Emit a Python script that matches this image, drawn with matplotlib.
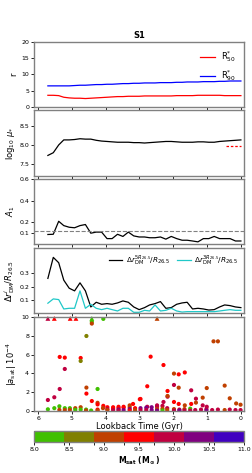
import matplotlib
matplotlib.use("Agg")
import matplotlib.pyplot as plt
from matplotlib.colors import ListedColormap, BoundaryNorm
import numpy as np

# lookback time of each snapshot (Gyr)
time = [5.71, 5.55, 5.39, 5.24, 5.08, 4.92, 4.76, 4.60, 4.44, 4.28, 4.12, 3.96, 3.81,
        3.65, 3.49, 3.33, 3.17, 3.01, 2.85, 2.70, 2.54, 2.38, 2.22, 2.06, 1.90, 1.74,
        1.59, 1.43, 1.27, 1.11, 0.95, 0.79, 0.63, 0.48, 0.32, 0.16, 0.00]

r50 = [3.6, 3.6, 3.5, 3.0, 2.8, 2.7, 2.7, 2.6, 2.7, 2.8, 2.9, 3.0, 3.1, 3.2, 3.2, 3.3,
       3.3, 3.3, 3.4, 3.4, 3.4, 3.4, 3.4, 3.4, 3.5, 3.5, 3.5, 3.5, 3.6, 3.6, 3.6, 3.6,
       3.6, 3.5, 3.5, 3.5, 3.5]
r90 = [6.5, 6.5, 6.5, 6.5, 6.5, 6.6, 6.7, 6.7, 6.8, 6.9, 6.9, 7.0, 7.0, 7.1, 7.2, 7.2,
       7.3, 7.3, 7.4, 7.4, 7.4, 7.5, 7.5, 7.5, 7.6, 7.6, 7.7, 7.7, 7.7, 7.8, 7.8, 7.8,
       7.9, 7.9, 8.0, 8.0, 8.0]

log_mu = [7.73, 7.80, 8.00, 8.13, 8.13, 8.14, 8.16, 8.15, 8.15, 8.12, 8.10, 8.09, 8.08,
          8.07, 8.07, 8.07, 8.06, 8.06, 8.05, 8.06, 8.07, 8.08, 8.09, 8.09, 8.08, 8.07,
          8.07, 8.07, 8.08, 8.08, 8.07, 8.07, 8.09, 8.10, 8.11, 8.12, 8.13]
mu_ref_time = [0.45, 0.0]
mu_ref = [7.98, 7.98]

a1 = [0.088, 0.09, 0.21, 0.17, 0.155, 0.15, 0.17, 0.18, 0.10, 0.11, 0.11, 0.05, 0.05,
      0.09, 0.07, 0.11, 0.075, 0.065, 0.065, 0.058, 0.058, 0.065, 0.045, 0.07, 0.05,
      0.035, 0.035, 0.028, 0.02, 0.05, 0.05, 0.07, 0.05, 0.05, 0.05, 0.028, 0.028]
a1_thresh = 0.12

dr5 = [0.263, 0.42, 0.38, 0.25, 0.19, 0.17, 0.23, 0.17, 0.05, 0.085, 0.07, 0.075, 0.07,
       0.08, 0.095, 0.085, 0.05, 0.03, 0.045, 0.065, 0.075, 0.09, 0.04, 0.045, 0.07,
       0.08, 0.085, 0.035, 0.04, 0.035, 0.027, 0.03, 0.05, 0.065, 0.06, 0.05, 0.045]
dr3 = [0.078, 0.11, 0.105, 0.035, 0.04, 0.04, 0.17, 0.04, 0.07, 0.04, 0.03, 0.04, 0.03,
       0.02, 0.04, 0.04, 0.01, 0.01, 0.025, 0.02, 0.065, 0.02, 0.025, 0.04, 0.02, 0.012,
       0.015, 0.015, 0.015, 0.015, 0.015, 0.015, 0.02, 0.025, 0.03, 0.025, 0.025]

# satellites: time, |a_sat| (1e-4), log mass
sat_time = [4.57, 5.36, 5.21, 4.74, 4.74, 5.21, 5.36, 4.57, 4.24, 4.57, 5.52, 5.71,
            4.41, 4.24, 4.24, 4.07, 3.95, 3.78, 3.62, 3.47, 3.29, 3.19, 2.99, 4.41, 4.41,
            4.07,
            2.67, 2.29, 1.98, 1.84, 1.66, 2.77, 1.98, 1.84, 2.17, 1.47, 0.48, 1.01, 0.81,
            0.68, 2.97, 2.17, 2.17, 2.29, 1.33, 1.13, 0.33, 1.98, 1.84, 1.47, 1.33, 1.13,
            1.01, 1.66, 0.14, 0.01, 2.48, 2.77, 2.64,
            5.71, 5.52, 5.37, 5.37, 5.21, 5.21, 5.06, 5.06, 4.90, 4.90, 4.74, 4.74, 4.58,
            4.58, 4.43, 4.24, 4.24, 4.08, 3.95, 3.95, 3.78, 3.78, 3.62, 3.62, 3.62, 3.47,
            3.47, 3.29, 3.29, 3.29, 3.13, 3.13, 2.97, 2.97, 2.80, 2.80, 2.64, 2.48, 2.48,
            2.48, 2.32, 2.32, 2.32, 2.18, 2.18, 1.98, 1.98, 1.82, 1.82, 1.67, 1.67, 1.50,
            1.50, 1.35, 1.18, 1.02, 1.02, 0.85, 0.68, 0.48, 0.33, 0.16, 0.01]
sat_acc = [7.98, 5.75, 5.68, 5.64, 5.32, 4.47, 2.34, 2.49, 2.34, 1.85, 1.46, 1.17,
           1.06, 0.87, 0.70, 0.55, 0.40, 0.40, 0.45, 0.45, 0.60, 0.75, 1.25, 9.5, 9.3,
           9.8,
           5.78, 4.89, 3.98, 3.90, 4.10, 2.63, 2.77, 2.48, 2.13, 2.20, 2.70, 2.44, 7.41,
           7.41, 1.28, 1.52, 1.60, 0.96, 1.31, 1.42, 1.35, 0.96, 0.75, 0.75, 0.89, 0.60,
           0.45, 0.60, 0.80, 0.67, 0.60, 0.45, 0.40,
           0.18, 0.30, 0.50, 0.12, 0.30, 0.10, 0.30, 0.12, 0.30, 0.12, 0.40, 0.15, 0.15,
           0.05, 0.05, 0.15, 0.05, 0.30, 0.20, 0.10, 0.25, 0.10, 0.30, 0.15, 0.05, 0.35,
           0.10, 0.40, 0.20, 0.05, 0.30, 0.10, 0.30, 0.10, 0.35, 0.10, 0.10, 0.45, 0.20,
           0.05, 0.55, 0.25, 0.05, 0.30, 0.10, 0.20, 0.05, 0.15, 0.05, 0.20, 0.05, 0.25,
           0.05, 0.10, 0.15, 0.20, 0.05, 0.10, 0.15, 0.10, 0.15, 0.10, 0.10]
sat_mass = [8.7, 9.5, 9.5, 9.5, 8.7, 9.9, 9.9, 9.1, 8.2, 9.5, 9.9, 9.9,
            9.5, 9.1, 9.5, 9.5, 9.5, 9.5, 9.5, 9.5, 9.1, 9.5, 9.5, 8.2, 9.1,
            8.2,
            9.5, 9.5, 9.1, 9.5, 9.5, 9.5, 9.9, 9.1, 9.5, 9.9, 9.1, 9.1, 9.1,
            9.1, 9.5, 9.9, 9.1, 9.9, 9.9, 9.1, 9.1, 9.5, 9.5, 9.5, 9.1, 9.9,
            9.9, 9.1, 9.1, 9.1, 9.9, 9.9, 10.3,
            8.2, 8.2, 8.2, 9.1, 8.2, 9.1, 8.2, 9.1, 9.1, 8.2, 9.1, 8.2, 8.2,
            9.1, 8.2, 9.5, 9.1, 9.1, 9.9, 9.1, 9.5, 9.9, 9.5, 10.3, 9.9, 9.5,
            10.3, 9.1, 10.3, 9.5, 9.5, 9.1, 10.3, 9.9, 10.3, 9.9, 10.3, 9.9, 9.1,
            10.3, 9.9, 9.1, 8.2, 9.9, 9.1, 9.1, 9.9, 9.9, 10.3, 9.1, 9.9, 8.2,
            9.9, 9.9, 9.9, 9.9, 10.3, 9.9, 9.9, 9.1, 9.9, 9.9, 9.9]

# satellites beyond the axis limit, drawn as triangles at the top
tri_time = [5.71, 5.52, 5.05, 4.88, 4.41, 2.48]
tri_acc = [9.85, 9.85, 9.85, 9.85, 9.85, 9.85]
tri_mass = [9.9, 9.5, 9.5, 9.5, 8.2, 9.1]

mass_colors = ['#40c000', '#808000', '#c04000', '#ff0000', '#c00040', '#800080', '#4000c0']
mass_bounds = [8.0, 8.4286, 8.8571, 9.2857, 9.7143, 10.1429, 10.5714, 11.0]

cmap = ListedColormap(mass_colors)
norm = BoundaryNorm(mass_bounds, cmap.N)

plt.rcParams['font.size'] = 5
plt.rcParams['axes.edgecolor'] = '#808080'
plt.rcParams['axes.linewidth'] = 1.0
plt.rcParams['xtick.major.size'] = 2
plt.rcParams['ytick.major.size'] = 2
plt.rcParams['xtick.major.width'] = 0.6
plt.rcParams['ytick.major.width'] = 0.6
plt.rcParams['xtick.labelsize'] = 4.5
plt.rcParams['ytick.labelsize'] = 4.5

fig = plt.figure(figsize=(2.52, 4.73), dpi=100)
left, width = 0.135, 0.833
ax1 = fig.add_axes([left, 0.7738, width, 0.1374])
ax2 = fig.add_axes([left, 0.6279, width, 0.1395])
ax3 = fig.add_axes([left, 0.4841, width, 0.1374])
ax4 = fig.add_axes([left, 0.3383, width, 0.1374])
ax5 = fig.add_axes([left, 0.1311, width, 0.1987])
cax = fig.add_axes([left, 0.0655, width, 0.0233])

xlim = (6.12, -0.09)
xt = [6, 5, 4, 3, 2, 1, 0]

# panel 1: radii
ax1.plot(time, r50, color='red', lw=0.9, label=r'R$^{*}_{50}$')
ax1.plot(time, r90, color='blue', lw=0.9, label=r'R$^{*}_{90}$')
ax1.set_ylim(0, 20)
ax1.set_yticks([0, 5, 10, 15, 20])
ax1.set_ylabel('r', fontsize=6, labelpad=2)
ax1.set_title('S1', fontsize=6, fontweight='bold', pad=3)
ax1.legend(loc='upper right', frameon=False, fontsize=6, handlelength=1.8, labelspacing=0.5)

# panel 2: surface density
ax2.plot(time, log_mu, color='black', lw=0.9)
ax2.plot(mu_ref_time, mu_ref, color='red', lw=0.9, ls=(0, (2, 1.5)))
ax2.set_ylim(7.2, 8.9)
ax2.set_yticks([7.5, 8.0, 8.5])
ax2.set_ylabel(r'log$_{10}$ $\mu_{*}$', fontsize=6, labelpad=2)

# panel 3: lopsidedness
ax3.plot(time, a1, color='black', lw=0.9)
ax3.axhline(a1_thresh, color='gray', lw=0.8, ls='--')
ax3.set_ylim(0.0, 0.6)
ax3.set_yticks([0.1, 0.2, 0.4, 0.6])
ax3.set_ylabel(r'$A_1$', fontsize=6, labelpad=2)

# panel 4: DM offset
ax4.plot(time, dr5, color='black', lw=0.9, label=r'$\Delta r_{\rm DM}^{5R_{26.5}}/R_{26.5}$')
ax4.plot(time, dr3, color='#20c8c8', lw=0.9, label=r'$\Delta r_{\rm DM}^{3R_{26.5}}/R_{26.5}$')
ax4.set_ylim(0.005, 0.49)
ax4.set_yticks([0.1, 0.2, 0.3])
ax4.set_ylabel(r'$\Delta r^{i}_{\rm DM}/R_{26.5}$', fontsize=6, labelpad=2)
ax4.legend(loc='upper right', ncol=2, frameon=False, fontsize=5.3, handlelength=1.8,
           columnspacing=1.0, borderaxespad=0.3, handletextpad=0.5)

# panel 5: satellite accelerations
ax5.scatter(sat_time, sat_acc, c=sat_mass, cmap=cmap, norm=norm, s=9, linewidths=0)
ax5.scatter(tri_time, tri_acc, c=tri_mass, cmap=cmap, norm=norm, s=12, marker='^',
            linewidths=0, clip_on=False)
ax5.set_ylim(0, 10)
ax5.set_yticks([0, 2, 4, 6, 8, 10])
ax5.set_ylabel(r'$|a_{\rm sat}|\ 10^{-4}$', fontsize=6, labelpad=2)
ax5.set_xlabel('Lookback Time (Gyr)', fontsize=6, labelpad=1)

for ax in [ax1, ax2, ax3, ax4, ax5]:
    ax.set_xlim(xlim)
    ax.set_xticks(xt)
    ax.tick_params(pad=1.5)
    if ax is not ax5:
        ax.set_xticklabels([])
ax5.set_xticklabels([str(v) for v in xt])

sm = plt.cm.ScalarMappable(cmap=cmap, norm=norm)
cb = fig.colorbar(sm, cax=cax, orientation='horizontal')
cb.set_ticks([8.0, 8.5, 9.0, 9.5, 10.0, 10.5, 11.0])
cb.ax.tick_params(labelsize=4.5, pad=1.5, length=2)
cb.set_label(r'$\mathbf{M_{sat}\ (M_\odot)}$', fontsize=5.5, labelpad=2)
cb.outline.set_edgecolor('#808080')

plt.savefig('out.png', dpi=100)
